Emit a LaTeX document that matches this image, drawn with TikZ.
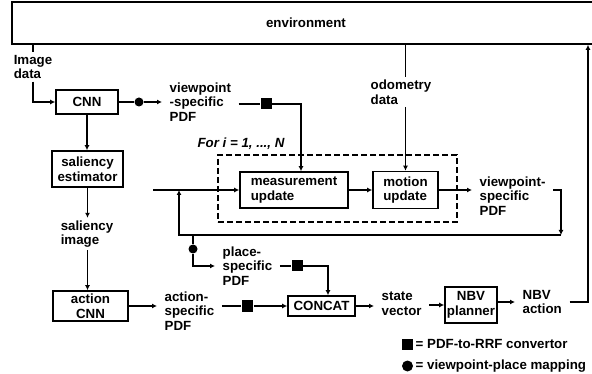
\documentclass[tikz,border=0pt]{standalone}
\usepackage{fontspec}
\setmainfont{Liberation Sans}
\usetikzlibrary{arrows.meta}

\begin{document}
\begin{tikzpicture}[x=1pt, y=-1pt,
		font=\fontsize{13.3}{14.5}\selectfont\bfseries,
		line width=1.4pt,
		box/.style={draw, line width=1.6pt, align=center, inner sep=2pt},
		lbl/.style={align=left, inner xsep=7pt, inner ysep=2pt},
		arr/.style={-{Latex[length=5pt,width=5pt]}},
		rrf/.style={fill, minimum size=11pt, inner sep=0pt},
		vpm/.style={circle, fill, minimum size=9pt, inner sep=0pt}]
			\useasboundingbox (0, 0) rectangle (592, 374);
			% top row
			\node at (306, 23) [box, minimum width=588pt, minimum height=42pt] (env) {environment};
			\node at (33, 67) [lbl, inner xsep=0pt] (img) {Image\\data};
			\node at (87, 102) [box, minimum width=62pt, minimum height=24pt] (cnn) {CNN};
			\node at (139, 102) [vpm] (d1) {};
			\node at (162, 102) [lbl, anchor=west] (vpdf1) {viewpoint\\-specific\\PDF};
			\node at (266, 104) [rrf] (sq1) {};
			\node at (401, 92) [lbl] (odo) {odometry\\data};
			% update loop
			\node at (241, 144) [] (fori) {\itshape For i = 1, ..., N};
			\node at (337.5, 188.5) [draw, dash pattern=on 6pt off 3pt, minimum width=239pt, minimum height=67pt] (loopbox) {};
			\node at (294, 190) [box, align=left, minimum width=108pt, minimum height=36pt] (meas) {measurement\\update};
			\node at (405.5, 190) [box, align=left, minimum width=65pt, minimum height=37pt] (motion) {motion\\update};
			\node at (472, 196) [lbl, anchor=west] (vpdf2) {viewpoint-\\specific\\PDF};
			\coordinate (in) at (153, 190);
			\coordinate (join) at (179, 190);
			\coordinate (fb) at (561, 235);
			\node at (193, 249) [vpm] (d2) {};
			\node at (215, 266) [lbl, anchor=west] (place) {place-\\specific\\PDF};
			\node at (297, 266) [rrf] (sq2) {};
			% left column and bottom row
			\node at (87.5, 169) [box, minimum width=71pt, minimum height=36pt] (sal) {saliency\\estimator};
			\node at (87, 234) [lbl] (salimg) {saliency\\image};
			\node at (90.5, 306) [box, minimum width=75pt, minimum height=30pt] (actcnn) {action\\CNN};
			\node at (157, 311) [lbl, anchor=west] (apdf) {action-\\specific\\PDF};
			\node at (247.5, 306) [rrf] (sq3) {};
			\node at (321.5, 306) [box, minimum width=67pt, minimum height=20pt] (concat) {CONCAT};
			\node at (374, 303.5) [lbl, anchor=west] (state) {state\\vector};
			\node at (471, 305) [box, minimum width=52pt, minimum height=36pt] (nbv) {NBV\\planner};
			\node at (515, 302) [lbl, anchor=west] (nbvact) {NBV\\action};
			\coordinate (up) at (588, 302);
			% legend
			\node at (407.5, 344) [rrf] (key1) {};
			\node at (413, 344) [lbl, anchor=west, inner xsep=2pt] (key1txt) {= PDF-to-RRF convertor};
			\node at (407.5, 366) [vpm, minimum size=11pt] (key2) {};
			\node at (413, 366) [lbl, anchor=west, inner xsep=2pt] (key2txt) {= viewpoint-place mapping};
			% connectors
			\draw (env.south -| img) -- (img.north);
			\draw [arr] (img.south) |- (cnn.west);
			\draw (cnn) -- (d1);
			\draw [arr] (d1) -- (vpdf1);
			\draw (vpdf1.east |- sq1) -- (sq1);
			\draw [arr] (sq1) -| ([xshift=7pt]meas.north);
			\draw (env.south -| motion) -- (odo.north -| motion);
			\draw [arr] (odo.south -| motion) -- (motion);
			\draw [arr] (in) -- (meas);
			\draw [arr] (meas) -- (motion);
			\draw [arr] (motion) -- (vpdf2.west |- motion);
			\draw [arr] (vpdf2.east |- motion) -| (fb);
			\draw [arr] (fb) -| (join);
			\draw (d2 |- fb) -- (d2);
			\draw [arr] (d2) |- (place);
			\draw (place.east |- sq2) -- (sq2);
			\draw [arr] (sq2) -| ([xshift=6.5pt]concat.north);
			\draw [arr] (cnn.south) -- (sal.north -| cnn.south);
			\draw [arr] (sal.south) -- (sal.south |- salimg.north);
			\draw [arr] (salimg.south -| sal) -- (actcnn.north -| sal);
			\draw [arr] (actcnn) -- (apdf.west |- actcnn);
			\draw (apdf.east |- sq3) -- (sq3);
			\draw [arr] (sq3) -- (concat);
			\draw [arr] (concat) -- (state.west |- concat);
			\draw [arr] (state.east |- nbv) -- (nbv);
			\draw [arr] (nbv.east |- nbvact) -- (nbvact.west);
			\draw [arr] (nbvact.east) -| (env.south -| up);
		\end{tikzpicture}
\end{document}
